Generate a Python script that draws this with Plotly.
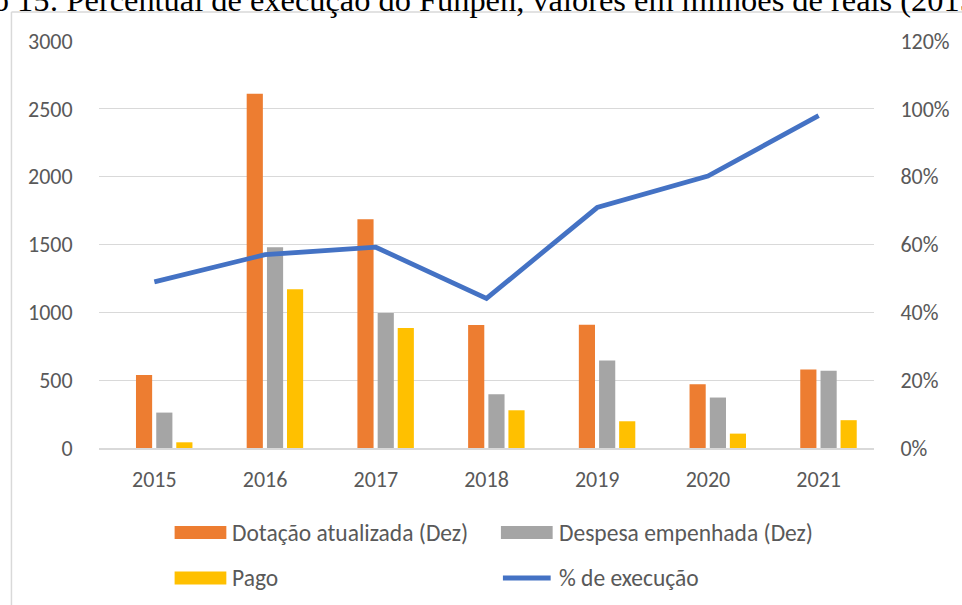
import plotly.graph_objects as go

# ---- data ----
years = ["2015", "2016", "2017", "2018", "2019", "2020", "2021"]
dotacao = [539, 2612, 1687, 906, 908, 470, 579]
despesa = [261, 1480, 995, 397, 645, 372, 569]
pago = [42, 1170, 884, 278, 197, 106, 205]
execucao = [0.49, 0.57, 0.592, 0.441, 0.709, 0.802, 0.98]

left_ticks = [0, 500, 1000, 1500, 2000, 2500, 3000]
right_ticks = [0, 0.2, 0.4, 0.6, 0.8, 1.0, 1.2]

series_names = ["Dotação atualizada (Dez)", "Despesa empenhada (Dez)", "Pago", "% de execução"]
title_text = "Gráfico 15: Percentual de execução do Funpen, valores em milhões de reais (2015-2021)"

ORANGE = "#ED7D31"
GRAY = "#A5A5A5"
YELLOW = "#FFC000"
BLUE = "#4472C4"
TXT = "#595959"
GRID = "#D9D9D9"
FONT = "Carlito, Calibri, Lato, sans-serif"

W, H = 962, 605
L, R, T, B = 99, 84, 41, 157
PW, PH = W - L - R, H - T - B


def xp(px):
    return (px - L) / PW


def yp(py):
    return (H - B - py) / PH


fig = go.Figure()

bw = 0.146
for vals, col, off, name in [
    (dotacao, ORANGE, -0.166, series_names[0]),
    (despesa, GRAY, 0.017, series_names[1]),
    (pago, YELLOW, 0.198, series_names[2]),
]:
    fig.add_trace(go.Bar(
        x=years, y=vals, name=name, marker=dict(color=col, line=dict(width=0)),
        width=bw, offset=off, showlegend=False,
    ))

fig.add_trace(go.Scatter(
    x=years, y=execucao, name=series_names[3], yaxis="y2", mode="lines",
    line=dict(color=BLUE, width=4.8), showlegend=False,
))

shapes = []
annotations = []

# chart border (left and top edges visible)
shapes.append(dict(type="line", xref="paper", yref="paper", x0=xp(11), x1=xp(970),
                   y0=yp(12), y1=yp(12), line=dict(color=GRID, width=1.5)))
shapes.append(dict(type="line", xref="paper", yref="paper", x0=xp(11), x1=xp(11),
                   y0=yp(12), y1=yp(615), line=dict(color=GRID, width=1.5)))

# legend (manual, Excel style)
legend_items = [
    (series_names[0], ORANGE, "bar", 175, 532.5),
    (series_names[1], GRAY, "bar", 503, 532.5),
    (series_names[2], YELLOW, "bar", 175, 578),
    (series_names[3], BLUE, "line", 503, 578),
]
for name, col, kind, x0, yc in legend_items:
    if kind == "bar":
        shapes.append(dict(type="rect", xref="paper", yref="paper",
                           x0=xp(x0), x1=xp(x0 + 52), y0=yp(yc + 6.5), y1=yp(yc - 6.5),
                           fillcolor=col, line=dict(width=0)))
    else:
        shapes.append(dict(type="line", xref="paper", yref="paper",
                           x0=xp(x0 + 2), x1=xp(x0 + 50), y0=yp(yc), y1=yp(yc),
                           line=dict(color=col, width=5)))
    annotations.append(dict(text=name, xref="paper", yref="paper", x=xp(x0 + 56), y=yp(yc),
                            xanchor="left", yanchor="middle", showarrow=False,
                            font=dict(family=FONT, size=23.5, color=TXT)))

# clipped caption at top
annotations.append(dict(text=title_text, xref="paper", yref="paper", x=xp(-93), y=yp(-0.5),
                        xanchor="left", yanchor="middle", showarrow=False,
                        font=dict(family="Liberation Serif, Times New Roman, serif", size=32.4, color="#000000")))

fig.update_layout(
    width=W, height=H,
    margin=dict(l=L, r=R, t=T, b=B, pad=0),
    paper_bgcolor="white", plot_bgcolor="white",
    barmode="group",
    showlegend=False,
    font=dict(family=FONT, size=22, color=TXT),
    xaxis=dict(
        type="category", showgrid=False, showline=True, linecolor=GRID, linewidth=1.5,
        ticks="outside", ticklen=11, tickcolor="rgba(0,0,0,0)",
        tickfont=dict(family=FONT, size=22, color=TXT), zeroline=False,
    ),
    yaxis=dict(
        range=[0, 3000], tickvals=left_ticks, showgrid=True, gridcolor=GRID, gridwidth=1.3,
        zeroline=False, showline=False, ticks="outside", ticklen=21, tickcolor="rgba(0,0,0,0)",
        tickfont=dict(family=FONT, size=22, color=TXT),
    ),
    yaxis2=dict(
        range=[0, 1.2], tickvals=right_ticks, tickformat=".0%", overlaying="y", side="right",
        showgrid=False, zeroline=False, showline=False, ticks="outside", ticklen=21,
        tickcolor="rgba(0,0,0,0)", tickfont=dict(family=FONT, size=22, color=TXT),
    ),
    shapes=shapes,
    annotations=annotations,
)

fig.write_html(
    "out.html",
    config={"displayModeBar": False},
    post_script="document.body.style.margin='0';document.body.style.overflow='hidden';",
)
